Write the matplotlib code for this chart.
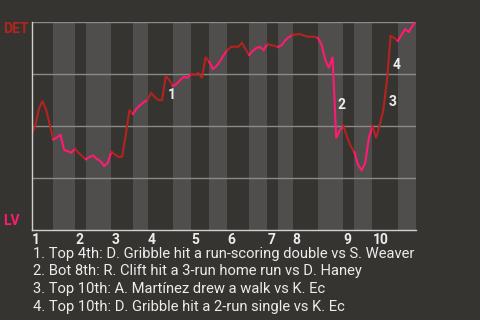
import matplotlib
matplotlib.use("Agg")
import matplotlib.pyplot as plt
import numpy as np

plt.rcParams['font.family'] = ['Roboto', 'DejaVu Sans']

BG = '#363430'
BAND = '#4f4e4c'
GRID = '#8a8a88'
AXIS = '#d0d0d0'
TEXT = '#ececec'
DET_COLOR = '#b5231f'
LV_COLOR = '#ff1a72'

# away team on top, home team at the bottom
teams = ['DET', 'LV']
innings = ['1', '2', '3', '4', '5', '6', '7', '8', '9', '10']
# plate appearances in each half inning (top, bottom, top, bottom, ...)
pas_per_half = [6, 6, 3, 7, 6, 4, 7, 5, 5, 5, 6, 5, 3, 4, 7, 7, 3, 5, 7, 5]
# DET win probability (%) after each plate appearance, first value = start of game
det_win_pct = [
    46,
    50, 58, 62, 58, 51, 43.5,
    44.5, 45.7, 38.5, 37.8, 37.2, 39.1,
    37, 35.5, 34,
    35.1, 35.8, 34.1, 33.2, 30.8, 32.2, 37.5,
    36.3, 35.1, 35.3, 46, 57.7, 55.8,
    58.5, 60.1, 61.5, 62.7,
    65.9, 63.9, 62.5, 62.5, 74.0, 72.1, 69.2,
    70.2, 72.1, 73.6, 73.1, 75.0,
    74.5, 75.5, 73.1, 83.2, 80.8,
    77.4, 78.8, 81.2, 84.1, 86.5,
    88.1, 88.1, 88.1, 89.9, 87.0, 84.1,
    86.1, 87.5, 88.0, 86.5, 89.4,
    88.9, 88.5, 88.0,
    88.9, 91.3, 92.8, 93.8,
    94.0, 94.2, 93.5, 93.0, 92.9, 92.9, 92.3,
    88.9, 81.7, 77.9, 83.2, 44.2, 48.1, 50.0,
    44.7, 40.4, 37.5,
    31.3, 28.8, 32.2, 44.2, 50.0,
    44.2, 50.5, 57.7, 72.1, 93.3, 92.3, 90.9,
    93.8, 96.6, 95.2, 98.1, 100,
]
# plate appearance index of each key play
event_pa = [37, 84, 98, 99]
event_notes = [
    "Top 4th: D. Gribble hit a run-scoring double vs S. Weaver",
    "Bot 8th: R. Clift hit a 3-run home run vs D. Haney",
    "Top 10th: A. Martínez drew a walk vs K. Ec",
    "Top 10th: D. Gribble hit a 2-run single vs K. Ec",
]

W, H = 480, 320
fig = plt.figure(figsize=(W / 100, H / 100), dpi=100, facecolor=BG)
ax = fig.add_axes([31.5 / W, 1 - 230 / H, (416 - 31.5) / W, 208 / H])
ax.set_facecolor(BG)

wp = np.array(det_win_pct)
x = np.arange(len(wp))
bounds = np.concatenate([[0], np.cumsum(pas_per_half)])

for i in range(len(pas_per_half)):
    a, b = bounds[i], bounds[i + 1]
    if i % 2 == 1:
        ax.axvspan(a, b, color=BAND, lw=0, zorder=0)
    color = DET_COLOR if i % 2 == 0 else LV_COLOR
    ax.plot(x[a:b + 1], wp[a:b + 1], color=color, lw=1.5, zorder=3,
            solid_joinstyle='miter')

for level in [25, 50, 75, 100]:
    ax.axhline(level, color=GRID, lw=1, zorder=1)

ax.set_xlim(0, bounds[-1])
ax.set_ylim(0, 100)
for side in ['top', 'right']:
    ax.spines[side].set_visible(False)
for side in ['left', 'bottom']:
    ax.spines[side].set_color(AXIS)
    ax.spines[side].set_linewidth(1)
    ax.spines[side].set_zorder(4)

ax.set_yticks([])
ax.set_xticks(bounds[:-1:2])
ax.set_xticklabels(innings, ha='left', fontweight='bold')
ax.tick_params(axis='x', length=0, pad=2, colors=TEXT, labelsize=10)

# key play markers next to the middle of the swing
for k, idx in enumerate(event_pa):
    mx = idx - 0.5
    my = (wp[idx - 1] + wp[idx]) / 2
    ax.annotate(str(k + 1), (mx, my), xytext=(2.5, 0), textcoords='offset points',
                ha='left', va='top', color=TEXT, fontsize=10, fontweight='bold', zorder=5)

fig.text(3 / W, 1 - 33 / H, teams[0], color=DET_COLOR, fontsize=10,
         fontweight='bold', va='baseline')
fig.text(3 / W, 1 - 225 / H, teams[1], color=LV_COLOR, fontsize=10,
         fontweight='bold', va='baseline')

for k, note in enumerate(event_notes):
    fig.text(33 / W, 1 - (257.7 + 17.8 * k) / H, f"{k + 1}. {note}",
             color=TEXT, fontsize=10.6, va='baseline')

fig.savefig('out.png', dpi=100, facecolor=BG)
